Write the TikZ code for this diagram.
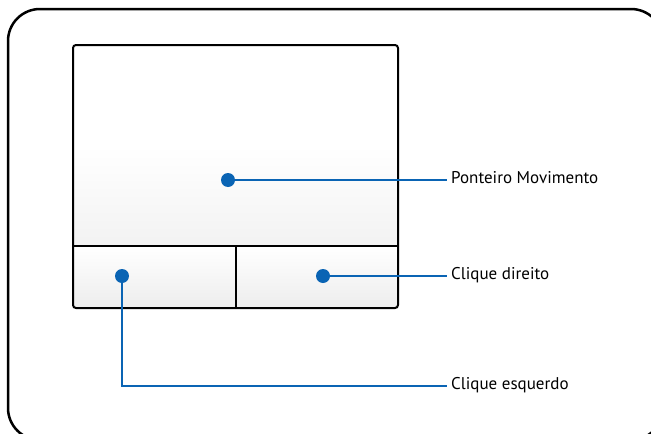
\documentclass[tikz,border=0pt]{standalone}
\usepackage{fontspec}
\setmainfont{PT Sans}
\usepackage{xcolor}
\usetikzlibrary{positioning}
\definecolor{padblue}{HTML}{0A64B4}

\begin{document}
\begin{tikzpicture}[x=1pt, y=-1pt,
        padline/.style={draw=black, line width=2pt},
        dot/.style={circle, fill=padblue, inner sep=0pt, minimum size=14pt},
        lead/.style={padblue, line width=2.5pt},
        tag/.style={anchor=west, inner xsep=4pt, inner ysep=0pt, text height=0.68em, text depth=0pt, font=\fontsize{17}{20}\selectfont}]
        \useasboundingbox (0,0) rectangle (651,434);
        \clip (0,0) rectangle (651,434);

        % frame
        \draw[line width=2.5pt, rounded corners=32pt] (8,9) rectangle (663,440);

        % touchpad surface and buttons
        \shade[top color=white, bottom color=black!5, middle color=white] (73,45) rectangle (398,246);
        \shade[top color=white, bottom color=black!7] (73,246) rectangle (398,308);
        \draw[padline] (73,246) -- (398,246);
        \draw[padline] (236,246) -- (236,308);
        \draw[padline, rounded corners=3pt] (73,45) rectangle (398,308);

        % dots
        \node[dot] (move) at (228,180) {};
        \node[dot] (right) at (323,276) {};
        \node[dot] (left) at (122,276) {};

        % labels
        \node[tag] (moveTag) at (447,180) {Ponteiro Movimento};
        \node[tag] (rightTag) at (447,276) {Clique direito};
        \node[tag] (leftTag) at (447,386) {Clique esquerdo};

        % leaders
        \draw[lead] (move) -- (moveTag.west);
        \draw[lead] (right) -- (rightTag.west);
        \draw[lead] (left) |- (leftTag.west);
    \end{tikzpicture}
\end{document}
